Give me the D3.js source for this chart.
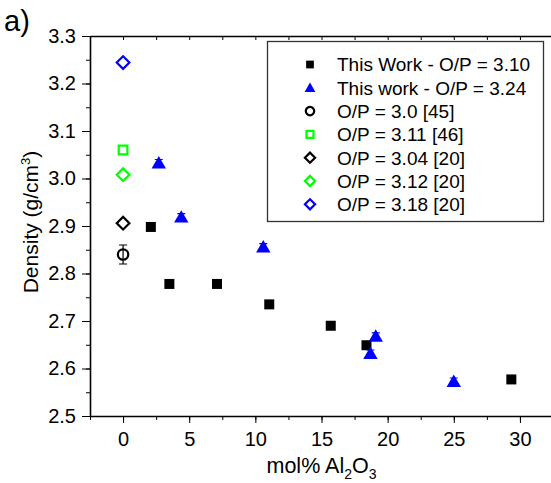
<!DOCTYPE html>
<html>
<head>
<meta charset="utf-8">
<script src="https://cdn.jsdelivr.net/npm/d3@7"></script>
<style>
  body { margin: 0; background: #fff; }
  svg { display: block; font-family: "Liberation Sans", Arial, sans-serif; }
  .axis path, .axis line { stroke: #000; }
  .axis text { font-size: 20px; fill: #000; font-family: "Liberation Sans", Arial, sans-serif; }
</style>
</head>
<body>
<div id="chart"></div>
<script>
// This work, O/P = 3.10 (black squares)
var workX = [2.1, 3.5, 7.1, 11.05, 15.7, 18.4, 29.35];
var workY = [2.898, 2.778, 2.778, 2.735, 2.690, 2.649, 2.577];
var workErr = [0.005, 0.005, 0.005, 0.005, 0.005, 0.005, 0.005];

// This work, O/P = 3.24 (blue triangles)
var triX = [2.7, 4.4, 10.6, 18.7, 19.1, 25.0];
var triY = [3.032, 2.918, 2.855, 2.631, 2.667, 2.572];
var triErr = [0.008, 0.008, 0.008, 0.008, 0.008, 0.008];

// literature points, all at 0 mol% Al2O3
var litNames = ["O/P = 3.0 [45]", "O/P = 3.11 [46]", "O/P = 3.04 [20]", "O/P = 3.12 [20]", "O/P = 3.18 [20]"];
var litX = [0, 0, 0, 0, 0];
var litY = [2.84, 3.06, 2.906, 3.008, 3.244];
var litErr = [0.02, 0, 0, 0, 0];
var litShape = ["circle", "square", "diamond", "diamond", "diamond"];
var litColor = ["#000000", "#00ff00", "#000000", "#00ff00", "#0000ff"];

var seriesNames = ["This Work - O/P = 3.10", "This work - O/P = 3.24"];

var xTicks = [0, 5, 10, 15, 20, 25, 30];
var yTicks = [2.5, 2.6, 2.7, 2.8, 2.9, 3.0, 3.1, 3.2, 3.3];

var W = 551, H = 483;
var margin = {top: 36, right: -2, bottom: 67, left: 90};

var x = d3.scaleLinear().domain([-2.5, 32.5]).range([margin.left, W - margin.right]);
var y = d3.scaleLinear().domain([2.5, 3.3]).range([H - margin.bottom, margin.top]);

var svg = d3.select("#chart").append("svg")
    .attr("width", W)
    .attr("height", H);

svg.append("defs").append("clipPath").attr("id", "plotclip")
    .append("rect")
    .attr("x", margin.left).attr("y", margin.top)
    .attr("width", x.range()[1] - margin.left)
    .attr("height", y.range()[0] - margin.top);

// minor ticks
var xMinor = d3.range(-2.5, 33, 2.5);
var yMinor = d3.range(2.5, 3.31, 0.05);

svg.append("g").attr("class", "axis")
    .attr("transform", "translate(0," + y(2.5) + ")")
    .call(d3.axisBottom(x).tickValues(xMinor).tickSize(4).tickFormat(""))
    .select(".domain").remove();

svg.append("g").attr("class", "axis")
    .attr("transform", "translate(" + x(-2.5) + ",0)")
    .call(d3.axisLeft(y).tickValues(yMinor).tickSize(4).tickFormat(""))
    .select(".domain").remove();

// top axis, ticks pointing inward
svg.append("g").attr("class", "axis")
    .attr("transform", "translate(0," + y(3.3) + ")")
    .call(d3.axisTop(x).tickValues(xMinor).tickSizeInner(-4).tickSizeOuter(0).tickFormat(""))
    .select(".domain").attr("stroke-width", 1.6);

// main axes
var xAxis = svg.append("g").attr("class", "axis")
    .attr("transform", "translate(0," + y(2.5) + ")")
    .call(d3.axisBottom(x).tickValues(xTicks).tickSizeInner(7).tickSizeOuter(0).tickPadding(9));
xAxis.select(".domain").attr("stroke-width", 1.6);

var yAxis = svg.append("g").attr("class", "axis")
    .attr("transform", "translate(" + x(-2.5) + ",0)")
    .call(d3.axisLeft(y).tickValues(yTicks).tickSizeInner(8).tickSizeOuter(0).tickPadding(6)
        .tickFormat(d3.format(".1f")));
yAxis.select(".domain").attr("stroke-width", 1.6);

// axis labels
var xl = svg.append("text")
    .attr("x", (x.range()[0] + x.range()[1]) / 2)
    .attr("y", 473)
    .attr("text-anchor", "middle")
    .attr("font-size", 21.5);
xl.append("tspan").text("mol% Al");
xl.append("tspan").attr("font-size", 14).attr("dy", 6).text("2");
xl.append("tspan").attr("dy", -6).text("O");
xl.append("tspan").attr("font-size", 14).attr("dy", 6).text("3");

var yl = svg.append("text")
    .attr("transform", "translate(38,222) rotate(-90)")
    .attr("text-anchor", "middle")
    .attr("font-size", 21);
yl.append("tspan").text("Density (g/cm");
yl.append("tspan").attr("font-size", 13).attr("dy", -8).text("3");
yl.append("tspan").attr("dy", 8).text(")");

svg.append("text")
    .attr("x", 4).attr("y", 31)
    .attr("font-size", 29)
    .text("a)");

// markers
function marker(sel, shape, size) {
    var sym = {square: d3.symbolSquare, circle: d3.symbolCircle,
               triangle: d3.symbolTriangle, diamond: d3.symbolSquare}[shape];
    sel.attr("d", d3.symbol().type(sym).size(size));
}

var plot = svg.append("g").attr("clip-path", "url(#plotclip)");

function errBars(g, xs, ys, errs, color) {
    g.selectAll(null).data(xs.map(function (d, i) { return i; }).filter(function (i) { return errs[i] > 0; }))
        .enter().append("path")
        .attr("fill", "none")
        .attr("stroke", color)
        .attr("stroke-width", 1.2)
        .attr("d", function (i) {
            var cx = x(xs[i]), y0 = y(ys[i] - errs[i]), y1 = y(ys[i] + errs[i]);
            return "M" + cx + "," + y0 + "V" + y1 +
                "M" + (cx - 4) + "," + y0 + "H" + (cx + 4) +
                "M" + (cx - 4) + "," + y1 + "H" + (cx + 4);
        });
}

errBars(plot, workX, workY, workErr, "#000");
errBars(plot, triX, triY, triErr, "#0000ff");
errBars(plot, litX, litY, litErr, "#000");

plot.selectAll(".sq").data(workX).enter().append("path")
    .attr("class", "sq")
    .attr("transform", function (d, i) { return "translate(" + x(d) + "," + y(workY[i]) + ")"; })
    .attr("fill", "#000")
    .call(marker, "square", 100);

plot.selectAll(".tri").data(triX).enter().append("path")
    .attr("class", "tri")
    .attr("transform", function (d, i) { return "translate(" + x(d) + "," + (y(triY[i]) + 1) + ")"; })
    .attr("fill", "#0000ff")
    .call(marker, "triangle", 90);

function drawLit(g, i, cx, cy, scale) {
    var p = g.append("path")
        .attr("fill", "none")
        .attr("stroke", litColor[i])
        .attr("stroke-width", 2.2);
    if (litShape[i] === "diamond") {
        p.attr("transform", "translate(" + cx + "," + cy + ") rotate(45)")
            .call(marker, "diamond", 80 * scale);
    } else if (litShape[i] === "circle") {
        p.attr("transform", "translate(" + cx + "," + cy + ")")
            .call(marker, "circle", 85 * scale);
    } else {
        p.attr("transform", "translate(" + cx + "," + cy + ")")
            .call(marker, "square", 75 * scale);
    }
}

litX.forEach(function (d, i) {
    drawLit(plot, i, x(d), y(litY[i]), 1);
});

// legend
var legend = svg.append("g");
legend.append("rect")
    .attr("x", 267.5).attr("y", 41.5)
    .attr("width", 276).attr("height", 180)
    .attr("fill", "#fff")
    .attr("stroke", "#333")
    .attr("stroke-width", 1.3);

var rowY = d3.range(7).map(function (i) { return 64.5 + i * 23.3; });
var labels = seriesNames.concat(litNames);

legend.append("path")
    .attr("transform", "translate(310," + rowY[0] + ")")
    .attr("fill", "#000")
    .call(marker, "square", 60);
legend.append("path")
    .attr("transform", "translate(310," + (rowY[1] + 1) + ")")
    .attr("fill", "#0000ff")
    .call(marker, "triangle", 50);
litNames.forEach(function (n, i) {
    drawLit(legend, i, 310, rowY[i + 2], 0.65);
});

legend.selectAll("text").data(labels).enter().append("text")
    .attr("x", 337)
    .attr("y", function (d, i) { return rowY[i]; })
    .attr("dy", "0.36em")
    .attr("font-size", 19)
    .text(function (d) { return d; });
</script>
</body>
</html>
